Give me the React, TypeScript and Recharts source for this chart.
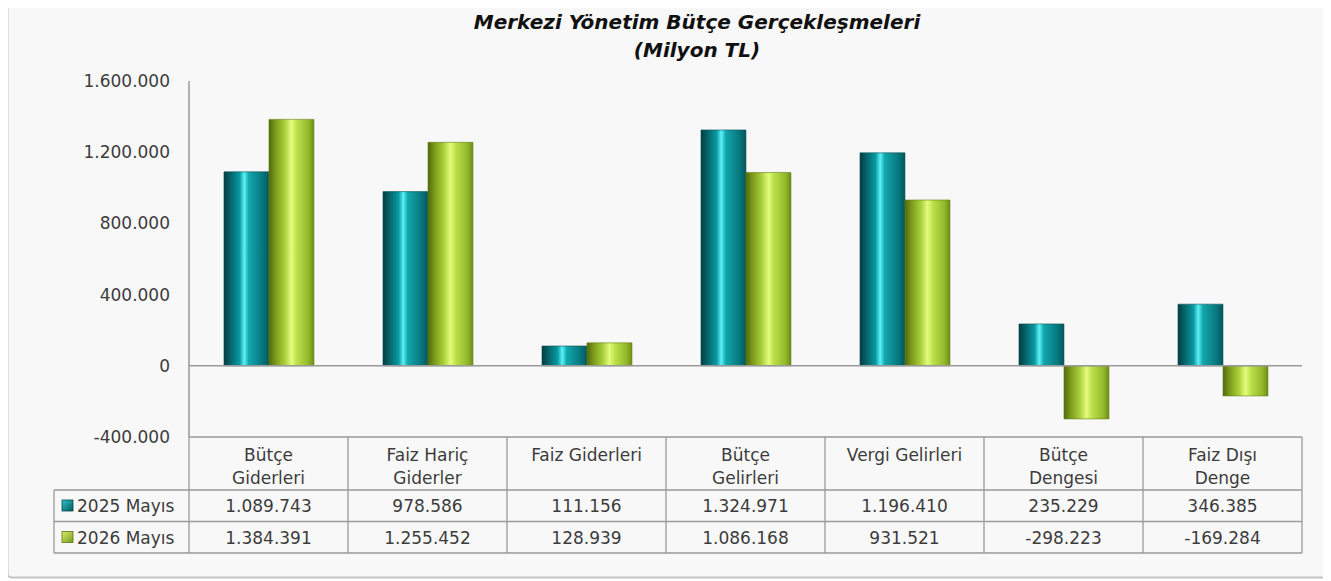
import React from "react";
import { BarChart, Bar, XAxis, YAxis, ReferenceLine, Customized } from "recharts";

const categories = [
  "Bütçe\nGiderleri",
  "Faiz Hariç\nGiderler",
  "Faiz Giderleri",
  "Bütçe\nGelirleri",
  "Vergi Gelirleri",
  "Bütçe\nDengesi",
  "Faiz Dışı\nDenge",
];
const series2025 = [1089743, 978586, 111156, 1324971, 1196410, 235229, 346385];
const series2026 = [1384391, 1255452, 128939, 1086168, 931521, -298223, -169284];
const seriesNames = ["2025 Mayıs", "2026 Mayıs"];
const yTicks = [-400000, 0, 400000, 800000, 1200000, 1600000];
const titleLines = ["Merkezi Yönetim Bütçe Gerçekleşmeleri", "(Milyon TL)"];

const data = categories.map((c, i) => ({ name: c, a: series2025[i], b: series2026[i] }));

const fmt = (v: number) => {
  const neg = v < 0;
  const s = Math.abs(Math.round(v)).toString().replace(/\B(?=(\d{3})+(?!\d))/g, ".");
  return (neg ? "-" : "") + s;
};

const FONT = "'DejaVu Sans', sans-serif";
const TEXT = "#3c3c3c";
const GRID = "#9a9a9a";
const FS = 17;

const TableTick = (props: any) => {
  const { x, y, index, payload, width, visibleTicksCount } = props;
  const n = visibleTicksCount || categories.length;
  const colW = width / n;
  const left = x - colW / 2;
  const right = x + colW / 2;
  const hdrH = 53;
  const rowH = 31.5;
  const lines = String(payload.value).split("\n");
  const els: any[] = [];
  els.push(<line key="vl" x1={left} x2={left} y1={y} y2={y + hdrH + 2 * rowH} stroke={GRID} strokeWidth={1.3} />);
  if (index === n - 1) {
    els.push(<line key="vr" x1={right} x2={right} y1={y} y2={y + hdrH + 2 * rowH} stroke={GRID} strokeWidth={1.3} />);
  }
  els.push(<line key="h1" x1={left} x2={right} y1={y + hdrH} y2={y + hdrH} stroke={GRID} strokeWidth={1.3} />);
  els.push(<line key="h2" x1={left} x2={right} y1={y + hdrH + rowH} y2={y + hdrH + rowH} stroke={GRID} strokeWidth={1.3} />);
  els.push(<line key="h3" x1={left} x2={right} y1={y + hdrH + 2 * rowH} y2={y + hdrH + 2 * rowH} stroke={GRID} strokeWidth={1.3} />);
  lines.forEach((ln, li) => {
    els.push(
      <text key={"t" + li} x={x} y={y + 24 + li * 23} textAnchor="middle" fontFamily={FONT} fontSize={FS} fill={TEXT}>
        {ln}
      </text>
    );
  });
  els.push(
    <text key="v1" x={x} y={y + hdrH + 22} textAnchor="middle" fontFamily={FONT} fontSize={FS} fill={TEXT}>
      {fmt(series2025[index])}
    </text>
  );
  els.push(
    <text key="v2" x={x} y={y + hdrH + rowH + 22} textAnchor="middle" fontFamily={FONT} fontSize={FS} fill={TEXT}>
      {fmt(series2026[index])}
    </text>
  );
  if (index === 0) {
    const lx = left - 135;
    els.push(<line key="lh1" x1={lx} x2={left} y1={y + hdrH} y2={y + hdrH} stroke={GRID} strokeWidth={1.3} />);
    els.push(<line key="lh2" x1={lx} x2={left} y1={y + hdrH + rowH} y2={y + hdrH + rowH} stroke={GRID} strokeWidth={1.3} />);
    els.push(<line key="lh3" x1={lx} x2={left} y1={y + hdrH + 2 * rowH} y2={y + hdrH + 2 * rowH} stroke={GRID} strokeWidth={1.3} />);
    els.push(<line key="lv" x1={lx} x2={lx} y1={y + hdrH} y2={y + hdrH + 2 * rowH} stroke={GRID} strokeWidth={1.3} />);
    seriesNames.forEach((sn, si) => {
      const ry = y + hdrH + si * rowH;
      els.push(
        <rect key={"m" + si} x={lx + 8} y={ry + 10} width={11} height={11} fill={si === 0 ? "url(#gTealM)" : "url(#gGreenM)"} stroke={si === 0 ? "#05484c" : "#5c7410"} strokeWidth={0.8} />
      );
      els.push(
        <text key={"s" + si} x={lx + 23} y={ry + 22} fontFamily={FONT} fontSize={FS} fill={TEXT}>
          {sn}
        </text>
      );
    });
  }
  return <g>{els}</g>;
};

const Defs = () => (
  <defs>
    <linearGradient id="gTeal" x1="0" y1="0" x2="1" y2="0">
      <stop offset="0%" stopColor="#033c40" />
      <stop offset="15%" stopColor="#05656b" />
      <stop offset="35%" stopColor="#0a9aa2" />
      <stop offset="45%" stopColor="#5cf2f6" />
      <stop offset="55%" stopColor="#12a7ae" />
      <stop offset="85%" stopColor="#07787e" />
      <stop offset="100%" stopColor="#04565b" />
    </linearGradient>
    <linearGradient id="gGreen" x1="0" y1="0" x2="1" y2="0">
      <stop offset="0%" stopColor="#4f6a0c" />
      <stop offset="15%" stopColor="#7d9c1c" />
      <stop offset="35%" stopColor="#a9cf3a" />
      <stop offset="50%" stopColor="#e4fc7c" />
      <stop offset="62%" stopColor="#bce04a" />
      <stop offset="88%" stopColor="#92b82a" />
      <stop offset="100%" stopColor="#6c8c18" />
    </linearGradient>
    <linearGradient id="gTealM" x1="0" y1="0" x2="1" y2="1">
      <stop offset="0%" stopColor="#2fc4cc" />
      <stop offset="100%" stopColor="#05575c" />
    </linearGradient>
    <linearGradient id="gGreenM" x1="0" y1="0" x2="1" y2="1">
      <stop offset="0%" stopColor="#d6f068" />
      <stop offset="100%" stopColor="#7a9a1c" />
    </linearGradient>
  </defs>
);

export default function App() {
  return (
    <div style={{ position: "relative", marginLeft: -8, marginTop: -8, width: 1331, height: 581, background: "#ffffff" }}>
      <svg width={1331} height={581} style={{ position: "absolute", left: 0, top: 0 }}>
        <rect x={7.5} y={1.5} width={1321} height={576} rx={4} fill="#f8f8f8" stroke="#c4c4c4" strokeWidth={2} />
        <text x={697} y={29} textAnchor="middle" fontFamily={FONT} fontSize={20} fontWeight="bold" fontStyle="italic" fill="#111">
          {titleLines[0]}
        </text>
        <text x={697} y={57} textAnchor="middle" fontFamily={FONT} fontSize={20} fontWeight="bold" fontStyle="italic" fill="#111">
          {titleLines[1]}
        </text>
      </svg>
      <div style={{ position: "absolute", left: 0, top: 0 }}>
        <BarChart
          width={1331}
          height={581}
          data={data}
          margin={{ top: 81, right: 29, bottom: 14, left: 0 }}
          barCategoryGap="22%"
          barGap={0}
        >
          <Customized component={Defs} />
          <YAxis
            type="number"
            domain={[-400000, 1600000]}
            ticks={yTicks}
            width={189}
            tickLine={false}
            tickSize={6}
            tickMargin={13}
            axisLine={{ stroke: GRID, strokeWidth: 1.5 }}
            tickFormatter={fmt}
            tick={{ fontFamily: FONT, fontSize: FS, fill: TEXT }}
            interval={0}
            allowDataOverflow
          />
          <XAxis
            dataKey="name"
            height={130}
            tickLine={false}
            tickSize={0}
            tickMargin={0}
            interval={0}
            axisLine={{ stroke: GRID, strokeWidth: 1.5 }}
            tick={<TableTick />}
          />
          <ReferenceLine y={0} stroke={GRID} strokeWidth={1.5} />
          <Bar dataKey="a" name={seriesNames[0]} fill="url(#gTeal)" stroke="#0a5357" strokeWidth={0.6} isAnimationActive={false} />
          <Bar dataKey="b" name={seriesNames[1]} fill="url(#gGreen)" stroke="#66801a" strokeWidth={0.6} isAnimationActive={false} />
        </BarChart>
      </div>
    </div>
  );
}
